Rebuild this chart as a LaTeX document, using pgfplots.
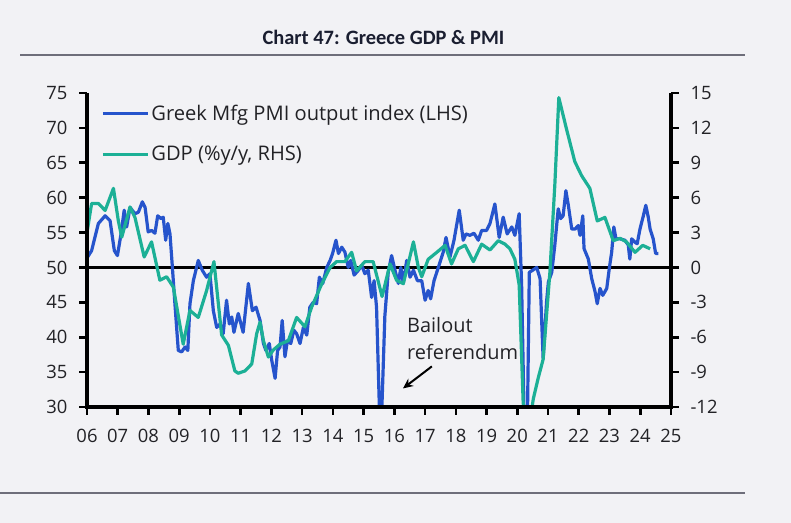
\documentclass[border=0pt]{standalone}
\usepackage{fontspec}
\setmainfont{Open Sans}
\newfontfamily\titlefont{Carlito}
\usepackage{pgfplots}
\pgfplotsset{compat=1.18}
\usetikzlibrary{arrows.meta}

\definecolor{bg}{RGB}{242,242,245}
\definecolor{pmiblue}{RGB}{38,84,204}
\definecolor{gdpteal}{RGB}{28,176,150}
\definecolor{titlecol}{RGB}{26,30,48}
\definecolor{rulecol}{RGB}{110,110,122}
\definecolor{textcol}{RGB}{34,34,38}

\pgfplotsset{
  chartaxis/.style={
    at={(87bp,116bp)}, anchor=south west,
    width=584bp, height=314bp, scale only axis,
    xmin=2006, xmax=2025,
    axis line style={draw=none},
    major tick length=0pt,
    ticklabel style={font=\fontsize{18.5}{22}\selectfont, text=textcol},
    /pgf/number format/assume math mode=true,
  },
}

\begin{document}
\begin{tikzpicture}[x=1bp,y=1bp]
\useasboundingbox (0,0) rectangle (791,523);
\fill[bg] (0,0) rectangle (791,523);
% title and rules
\node[font=\titlefont\bfseries\fontsize{20.5}{24}\selectfont, text=titlecol] at (383.5,486) {Chart 47: Greece GDP \& PMI};
\draw[rulecol, line width=1.2bp] (20,468) -- (745,468);
\draw[rulecol, line width=1.2bp] (0,30) -- (745,30);

\begin{axis}[
  axis x line*=bottom, axis y line*=left,
  chartaxis,
  ymin=30, ymax=75,
  xtick={2006,...,2025},
  xticklabels={06,07,08,09,10,11,12,13,14,15,16,17,18,19,20,21,22,23,24,25},
  xticklabel style={yshift=-19bp},
  ytick={30,35,...,75},
  yticklabel style={xshift=-16bp},
  legend style={at={(0,1)}, anchor=north west, xshift=14bp, yshift=-10bp,
    draw=none, fill=none, font=\fontsize{20.2}{24}\selectfont, text=textcol,
    row sep=20bp, inner sep=0pt, nodes={inner sep=2bp}},
  legend cell align=left,
  legend image code/.code={\draw[#1, line width=3.2bp] (0bp,0bp) -- (45bp,0bp);},
]
\draw[black, line width=2.8bp] (axis cs:2006,50) -- (axis cs:2025,50);
\addplot[pmiblue, line width=3.2bp, line join=round] coordinates {
(2006.02,51.5) (2006.15,52.4) (2006.37,56.3) (2006.59,57.4) (2006.75,56.7) (2006.89,52.4)
(2006.99,51.7) (2007.11,54.9) (2007.21,58.2) (2007.29,55.8) (2007.40,58.6) (2007.56,57.7)
(2007.67,57.9) (2007.80,59.4) (2007.89,58.6) (2007.99,55.1) (2008.10,55.3) (2008.21,54.9)
(2008.30,57.4) (2008.41,57.0) (2008.48,57.2) (2008.56,53.9) (2008.63,56.3) (2008.70,54.8)
(2008.77,50.5) (2008.86,44.8) (2008.97,38.1) (2009.08,37.9) (2009.19,38.6) (2009.28,38.1)
(2009.35,44.8) (2009.46,48.1) (2009.62,51.0) (2009.75,49.6) (2009.89,48.6) (2010.00,49.1)
(2010.11,43.8) (2010.22,41.4) (2010.33,41.9) (2010.43,40.5) (2010.54,45.3) (2010.63,41.9)
(2010.71,42.9) (2010.78,40.7) (2010.92,43.4) (2011.08,40.7) (2011.25,47.7) (2011.38,43.8)
(2011.50,44.3) (2011.63,42.4) (2011.74,39.1) (2011.82,38.1) (2011.93,39.1) (2012.01,36.7)
(2012.12,34.1) (2012.20,38.1) (2012.28,38.6) (2012.35,42.4) (2012.44,37.2) (2012.52,39.5)
(2012.63,39.1) (2012.73,41.0) (2012.82,40.5) (2012.93,39.1) (2013.04,41.4) (2013.15,40.3)
(2013.25,44.3) (2013.36,45.0) (2013.47,44.8) (2013.56,48.6) (2013.67,47.7) (2013.80,50.0)
(2013.91,51.0) (2013.99,52.0) (2014.10,53.9) (2014.18,52.0) (2014.29,52.9) (2014.39,52.2)
(2014.50,50.0) (2014.58,51.0) (2014.69,48.9) (2014.83,49.6) (2014.94,50.3) (2015.04,49.1)
(2015.15,49.6) (2015.26,45.7) (2015.34,48.1) (2015.42,44.3) (2015.55,24.0) (2015.69,43.0)
(2015.80,49.3) (2015.91,51.7) (2016.02,49.6) (2016.13,47.7) (2016.21,50.0) (2016.29,47.7)
(2016.40,51.0) (2016.51,48.6) (2016.62,49.6) (2016.75,48.1) (2016.89,48.1) (2017.00,45.3)
(2017.10,46.7) (2017.18,45.5) (2017.29,48.1) (2017.43,50.0) (2017.59,52.2) (2017.68,54.3)
(2017.81,51.5) (2017.94,53.9) (2018.11,58.2) (2018.24,53.9) (2018.33,54.8) (2018.46,54.6)
(2018.59,54.9) (2018.73,53.9) (2018.84,55.3) (2019.00,55.3) (2019.11,56.3) (2019.27,59.1)
(2019.41,54.3) (2019.54,57.2) (2019.67,54.8) (2019.82,55.8) (2019.92,54.6) (2020.06,57.7)
(2020.14,47.4) (2020.25,22.0) (2020.31,22.0) (2020.39,49.3) (2020.50,49.6) (2020.63,50.0)
(2020.74,48.4) (2020.84,36.9) (2020.95,45.0) (2021.01,47.9) (2021.12,49.3) (2021.22,53.2)
(2021.33,58.4) (2021.41,57.0) (2021.49,57.4) (2021.58,61.0) (2021.66,58.9) (2021.77,55.5)
(2021.88,55.5) (2021.98,56.0) (2022.04,54.6) (2022.13,57.4) (2022.17,52.7) (2022.31,51.2)
(2022.42,48.4) (2022.53,46.5) (2022.60,44.8) (2022.69,47.0) (2022.78,46.0) (2022.91,47.0)
(2022.99,49.8) (2023.07,52.2) (2023.14,55.8) (2023.21,54.1) (2023.34,54.1) (2023.50,53.9)
(2023.61,53.2) (2023.66,51.2) (2023.72,54.1) (2023.83,53.6) (2023.90,53.4) (2023.99,55.5)
(2024.10,57.4) (2024.18,58.9) (2024.26,57.2) (2024.32,55.5) (2024.42,54.1) (2024.50,52.0)
(2024.59,52.0)
};
\addlegendentry{Greek Mfg PMI output index (LHS)}
\addlegendimage{gdpteal}
\addlegendentry{GDP (\%y/y, RHS)}
% annotation
\node[anchor=west, inner sep=0pt, font=\fontsize{20}{24}\selectfont, text=textcol] at (axis cs:2016.41,41.69) {Bailout};
\node[anchor=west, inner sep=0pt, font=\fontsize{20}{24}\selectfont, text=textcol] at (axis cs:2016.41,37.82) {referendum};
\draw[-{Stealth[length=10bp,width=9bp]}, line width=2bp, black] (axis cs:2017.22,35.82) -- (axis cs:2016.28,32.66);
\end{axis}

\begin{axis}[
  axis x line=none, axis y line*=right,
  chartaxis,
  ymin=-12, ymax=15,
  ytick={-12,-9,...,15},
  yticklabel style={xshift=16bp},
]
\addplot[gdpteal, line width=3.2bp, line join=round] coordinates {
(2006.00,3.0) (2006.15,5.5) (2006.37,5.5) (2006.59,4.9) (2006.86,6.8) (2007.02,4.0)
(2007.13,2.6) (2007.40,5.2) (2007.56,4.3) (2007.86,0.9) (2008.10,2.2) (2008.37,-1.1)
(2008.59,-0.8) (2008.81,-1.7) (2009.13,-6.6) (2009.35,-3.7) (2009.62,-4.3) (2009.89,-2.0)
(2010.13,0.5) (2010.38,-5.8) (2010.60,-6.7) (2010.81,-8.9) (2010.92,-9.1) (2011.14,-8.9)
(2011.36,-8.3) (2011.52,-5.7) (2011.63,-4.7) (2011.74,-6.3) (2011.90,-7.7) (2012.06,-7.1)
(2012.28,-6.6) (2012.55,-6.3) (2012.82,-4.3) (2013.09,-5.1) (2013.31,-3.4) (2013.64,-1.4)
(2013.91,0.0) (2014.12,0.5) (2014.39,0.5) (2014.61,1.3) (2014.77,-0.3) (2015.04,0.5)
(2015.31,0.5) (2015.60,-2.5) (2015.86,0.3) (2016.07,-1.1) (2016.29,-1.4) (2016.45,0.3)
(2016.62,2.2) (2016.78,0.0) (2016.89,-0.8) (2017.10,0.7) (2017.38,1.3) (2017.65,1.9)
(2017.86,0.3) (2018.08,1.6) (2018.30,1.9) (2018.57,0.5) (2018.84,2.0) (2019.11,1.5)
(2019.38,2.3) (2019.60,2.0) (2019.76,1.6) (2019.92,0.7) (2020.06,-1.5) (2020.19,-11.6)
(2020.31,-15.0) (2020.52,-11.3) (2020.68,-9.5) (2020.84,-7.9) (2021.06,-0.4) (2021.22,7.1)
(2021.35,14.6) (2021.60,11.9) (2021.87,9.1) (2022.09,7.9) (2022.36,6.8) (2022.60,4.0)
(2022.85,4.3) (2023.12,2.3) (2023.34,2.5) (2023.55,2.2) (2023.83,1.3) (2024.08,1.9)
(2024.32,1.6)
};
\end{axis}

% axis frame and tick marks (drawn by hand, in bp)
\draw[black, line width=3.2bp, line join=miter] (87,430) -- (87,116) -- (671,116) -- (671,430);
\foreach \i in {0,...,19} \draw[black, line width=2.6bp] ({87+\i*584/19},116) -- ++(0,-8);
\foreach \j in {0,...,9} {
  \draw[black, line width=2.6bp] (87,{116+\j*314/9}) -- ++(-8,0);
  \draw[black, line width=2.6bp] (671,{116+\j*314/9}) -- ++(8,0);
}
\end{tikzpicture}
\end{document}
